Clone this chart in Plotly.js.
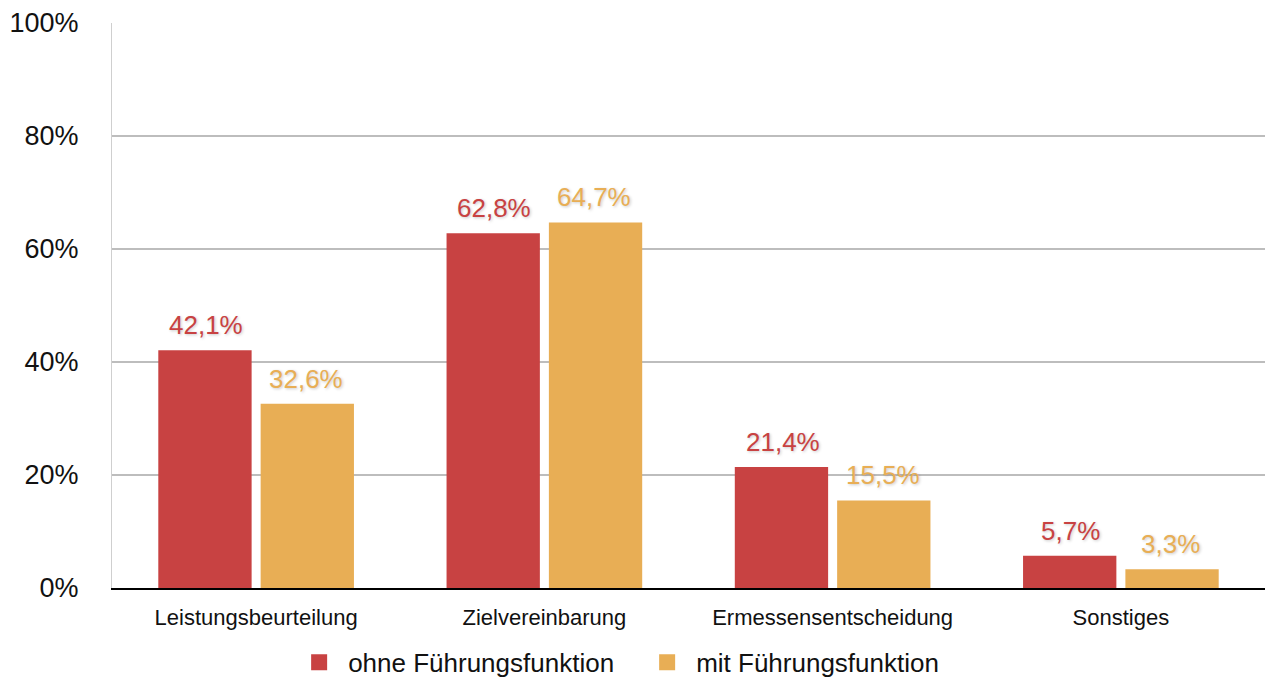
<!DOCTYPE html>
<html>
<head>
<meta charset="utf-8">
<script src="https://cdn.plot.ly/plotly-3.0.1.min.js"></script>
<style>html,body{margin:0;padding:0;background:#fff;}#chart{width:1265px;height:677px;}</style>
</head>
<body>
<div id="chart"></div>
<script>
const categories = ["Leistungsbeurteilung", "Zielvereinbarung", "Ermessensentscheidung", "Sonstiges"];
const ohneValues = [42.1, 62.8, 21.4, 5.7];
const mitValues = [32.6, 64.7, 15.5, 3.3];
const seriesNames = ["ohne Führungsfunktion", "mit Führungsfunktion"];
const yTicks = [0, 20, 40, 60, 80, 100];
const yTickLabels = ["0%", "20%", "40%", "60%", "80%", "100%"];

const fmt = v => v.toFixed(1).replace('.', ',') + '%';
const red = '#C84242', gold = '#E8AE55';
const FONT = 'Helvetica, Arial, "Liberation Sans", sans-serif';
const colors = [red, gold];
const seriesValues = [ohneValues, mitValues];

const data = [];
seriesValues.forEach((vals, i) => {
  data.push({
    type: 'bar', name: seriesNames[i], x: categories, y: vals,
    marker: {color: colors[i]}, showlegend: false, hoverinfo: 'x+y'
  });
});
seriesValues.forEach((vals, i) => {
  data.push({
    type: 'scatter', mode: 'markers', name: seriesNames[i], x: [null], y: [null],
    marker: {symbol: 'square', size: 22, color: colors[i]}, showlegend: true, hoverinfo: 'skip'
  });
});

const annotations = [];
seriesValues.forEach((vals, i) => {
  vals.forEach((v, j) => {
    annotations.push({
      xref: 'x', yref: 'y', x: categories[j], y: v, text: fmt(v),
      showarrow: false, xshift: i === 0 ? -50 : 50, yshift: 25, yanchor: 'middle',
      font: {family: FONT, size: 26, color: colors[i], shadow: '1px 1px 3px rgba(0,0,0,0.22)'}
    });
  });
});

const layout = {
  width: 1265, height: 677,
  margin: {l: 112, r: 0, t: 23, b: 89, autoexpand: false},
  paper_bgcolor: '#fff', plot_bgcolor: '#fff',
  barmode: 'group', bargap: 0.29, bargroupgap: 0.088,
  font: {family: FONT, color: '#111'},
  xaxis: {
    showgrid: false, showline: true, linecolor: '#000', linewidth: 2,
    tickfont: {size: 22, color: '#111'}, ticks: '', ticklabelstandoff: 9,
    tickangle: 0, automargin: false
  },
  yaxis: {
    range: [0, 100], tickvals: yTicks, ticktext: yTickLabels,
    showgrid: true, gridcolor: '#BDBDBD', gridwidth: 2,
    showline: true, linecolor: '#CFCFCF', linewidth: 1,
    zeroline: false, ticks: '', tickfont: {size: 27, color: '#111'},
    ticklabelstandoff: 27, automargin: false
  },
  annotations: annotations,
  showlegend: true,
  legend: {
    orientation: 'h', x: 0.1545, xanchor: 'left', entrywidth: 285,
    itemwidth: 48,
    y: -0.09, yanchor: 'top', font: {size: 26, color: '#111'},
    traceorder: 'normal', itemsizing: 'trace'
  }
};

Plotly.newPlot('chart', data, layout, {displayModeBar: false});
</script>
</body>
</html>
